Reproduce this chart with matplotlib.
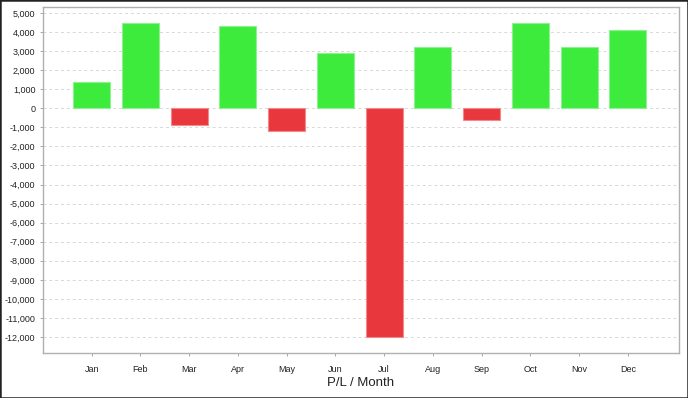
import matplotlib
matplotlib.use('Agg')
import matplotlib.pyplot as plt
from matplotlib.ticker import FuncFormatter, MultipleLocator
from matplotlib.patches import Rectangle

plt.rcParams['font.family'] = ['Liberation Sans', 'DejaVu Sans']
plt.rcParams['axes.unicode_minus'] = False

months = ['Jan', 'Feb', 'Mar', 'Apr', 'May', 'Jun', 'Jul', 'Aug', 'Sep', 'Oct', 'Nov', 'Dec']
pl = [1400, 4500, -900, 4300, -1200, 2900, -12000, 3200, -600, 4500, 3200, 4100]

green = '#3deb3d'
red = '#e8383d'

fig = plt.figure(figsize=(6.88, 3.98), dpi=100)
ax = fig.add_axes([43 / 688, 1 - 353 / 398, 636 / 688, 346 / 398])

x = list(range(len(months)))
colors = [green if v >= 0 else red for v in pl]
edges = ['#90f090' if v >= 0 else '#f08a8d' for v in pl]
ax.bar(x, pl, width=0.76, color=colors, edgecolor=edges, linewidth=0.8, zorder=3)

ax.set_xlim(-1.0, 12.05)
ax.set_ylim(-12840, 5315)
ax.yaxis.set_major_locator(MultipleLocator(1000))
ax.yaxis.set_major_formatter(FuncFormatter(lambda v, p: f'{int(v):,}'))
ax.set_xticks(x)
ax.set_xticklabels(months)

ax.grid(axis='y', color='#d8d8d8', linestyle=(0, (3, 3)), linewidth=0.7, zorder=0)
for s in ax.spines.values():
    s.set_color('#b0b0b0')
    s.set_linewidth(1.0)
ax.tick_params(axis='both', labelsize=6.5, colors='#999999', labelcolor='#222222', length=2.5, width=0.6)
ax.tick_params(axis='x', pad=6)
ax.tick_params(axis='y', pad=3)

fig.text(361 / 688, 1 - 383 / 398, 'P/L / Month', ha='center', va='center', fontsize=9.5, color='#222222')

# outer frame
fig.patches.append(Rectangle((0, 0), 1, 1, transform=fig.transFigure, fill=False,
                             edgecolor='#222222', linewidth=1.8))

fig.savefig('out.png', dpi=100)
